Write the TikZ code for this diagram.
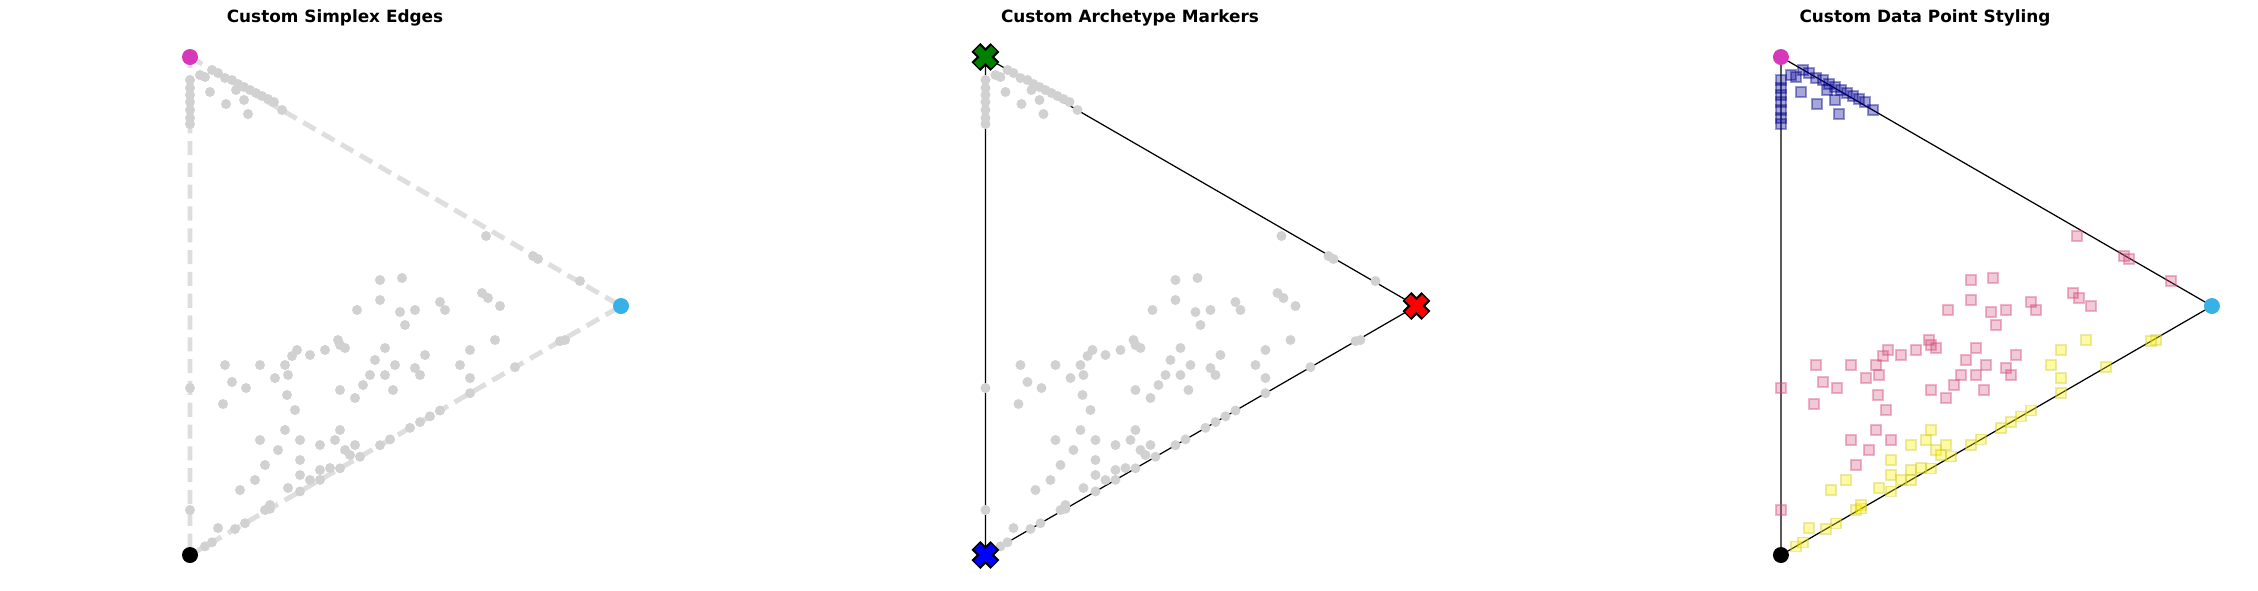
\documentclass[tikz,border=0pt]{standalone}
\usepackage{fontspec}
\setmainfont{DejaVu Sans}
\begin{document}
\begin{tikzpicture}[x=0.01cm,y=-0.01cm,
  ttl/.style={font=\bfseries\fontsize{4.8}{5.5}\selectfont},
  gdot/.style={fill=black!18},
  edgeA/.style={draw=black!13,line width=1.4pt,dash pattern=on 4pt off 2.2pt},
  edgeB/.style={draw=black,line width=0.35pt}]
\useasboundingbox (0,0) rectangle (2258,590);
\def\toppts{212/70,218/73,225/78,232/80,238/84,244/87,250/90,256/93,262/96,268/99,274/102,282/110,236/90,226/104,244/100,248/114,210/92,205/77,190/80,190/88,190/95,190/102,190/110,190/118,190/124,200/75}
\def\midpts{486/236,533/256,538/259,580/281,565/340,380/280,402/278,380/300,357/310,338/340,345/348,310/355,292/356,285/365,297/350,225/365,260/365,275/378,288/375,246/388,400/312,405/325,415/310,440/302,445/310,488/298,482/293,500/306,470/350,495/340,425/355,415/368,420/375,393/390,385/375,370/375,363/385,355/398,340/390,340/345,325/350,385/348,395/365,460/365,470/378,375/360,287/395,295/410,285/430,260/440,278/450,300/460,300/440,320/445,335/440,340/430,345/450,350/455,355/445,330/468,320/470,300/475,310/480,265/465,255/480,240/490,288/488,270/505,265/510,223/404,232/382,190/388,190/510,218/528}
\def\botpts{205,212,235,245,270,300,320,340,360,380,390,410,420,430,440,470,515,560}
\node[ttl] (t1) at (335,18) {Custom Simplex Edges};
\node[ttl] (t2) at (1130,18) {Custom Archetype Markers};
\node[ttl] (t3) at (1925,18) {Custom Data Point Styling};
% panel 1
\coordinate (a1) at (190,57); \coordinate (b1) at (621,306); \coordinate (c1) at (190,555);
\draw[edgeA] (a1) -- (b1) -- (c1) -- cycle;
\foreach \x/\y in \toppts {\fill[gdot] (\x,\y) circle (5);}
\foreach \x/\y in \midpts {\fill[gdot] (\x,\y) circle (5);}
\foreach \x in \botpts {\fill[gdot] (\x,{555-0.578*(\x-190)}) circle (5);}
\fill[fill={rgb,255:red,214;green,56;blue,188}] (a1) circle (8);
\fill[fill={rgb,255:red,56;green,178;blue,230}] (b1) circle (8);
\fill[black] (c1) circle (8);
% panel 2
\begin{scope}[xshift=7.95cm]
\coordinate (a2) at (190,57); \coordinate (b2) at (621,306); \coordinate (c2) at (190,555);
\draw[edgeB] (a2) -- (b2) -- (c2) -- cycle;
\foreach \x/\y in \toppts {\fill[gdot] (\x,\y) circle (5);}
\foreach \x/\y in \midpts {\fill[gdot] (\x,\y) circle (5);}
\foreach \x in \botpts {\fill[gdot] (\x,{555-0.578*(\x-190)}) circle (5);}
\foreach \p/\c in {a2/green!50!black,b2/red,c2/blue}{
  \draw[black,line width=3.6pt] ([shift={(-9.5,-9.5)}]\p) -- ([shift={(9.5,9.5)}]\p) ([shift={(-9.5,9.5)}]\p) -- ([shift={(9.5,-9.5)}]\p);
  \draw[\c,line width=2.3pt] ([shift={(-8.5,-8.5)}]\p) -- ([shift={(8.5,8.5)}]\p) ([shift={(-8.5,8.5)}]\p) -- ([shift={(8.5,-8.5)}]\p);
}
\end{scope}
% panel 3
\begin{scope}[xshift=15.9cm]
\coordinate (a3) at (190,57); \coordinate (b3) at (621,306); \coordinate (c3) at (190,555);
\draw[edgeB] (a3) -- (b3) -- (c3) -- cycle;
\foreach \x/\y in \toppts {\filldraw[fill=blue!60!black,draw=blue!50!black,fill opacity=0.35,draw opacity=0.4] (\x-5,\y-5) rectangle (\x+5,\y+5);}
\foreach \x/\y in \midpts {
  \pgfmathsetmacro\lim{555-0.578*(\x-190)-45}
  \ifdim\y pt>\lim pt
    \filldraw[fill=yellow,draw=yellow!80!black,fill opacity=0.35,draw opacity=0.4] (\x-5,\y-5) rectangle (\x+5,\y+5);
  \else
    \filldraw[fill=purple!70,draw=purple!70,fill opacity=0.3,draw opacity=0.4] (\x-5,\y-5) rectangle (\x+5,\y+5);
  \fi}
\foreach \x in \botpts {\filldraw[fill=yellow,draw=yellow!80!black,fill opacity=0.35,draw opacity=0.4] (\x-5,{555-0.578*(\x-190)-5}) rectangle (\x+5,{555-0.578*(\x-190)+5});}
\fill[fill={rgb,255:red,214;green,56;blue,188}] (a3) circle (8);
\fill[fill={rgb,255:red,56;green,178;blue,230}] (b3) circle (8);
\fill[black] (c3) circle (8);
\end{scope}
\end{tikzpicture}
\end{document}
